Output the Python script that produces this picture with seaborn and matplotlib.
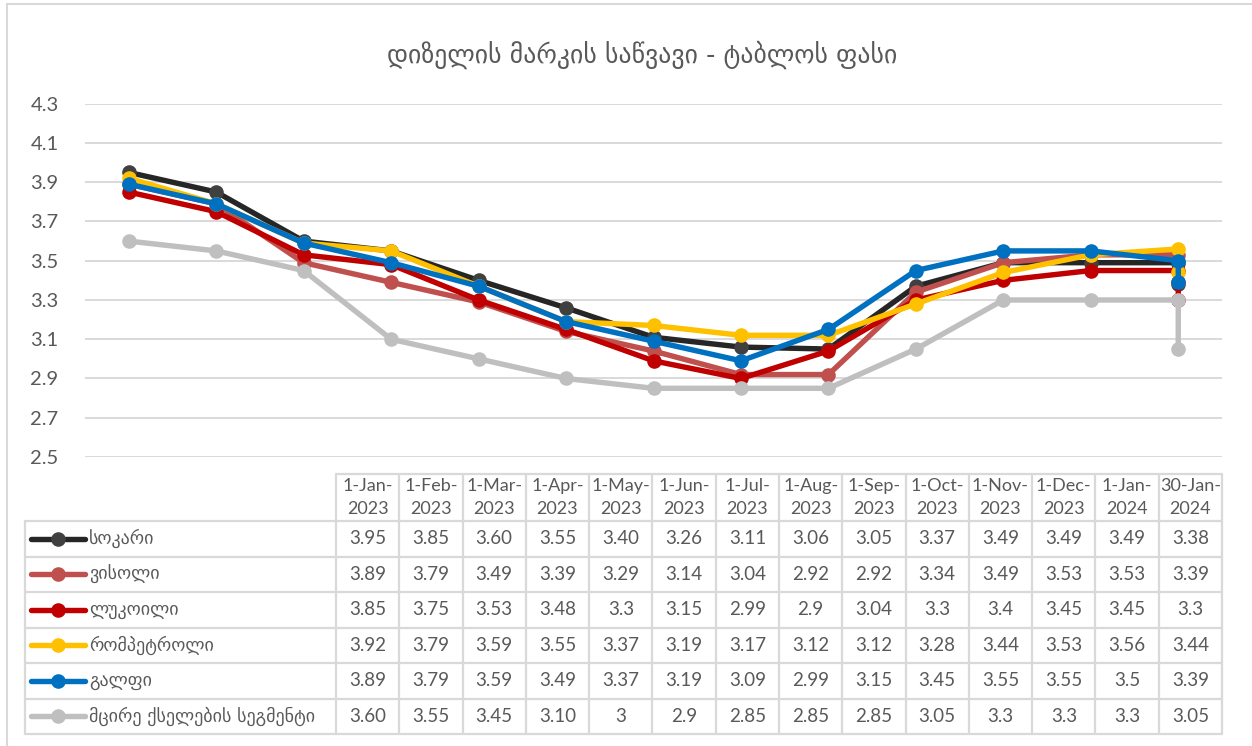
import matplotlib
matplotlib.use("Agg")
import matplotlib.pyplot as plt
from matplotlib.lines import Line2D
import seaborn as sns
import pandas as pd

sns.set_theme(style="white")
plt.rcParams['font.family'] = ['Lato', 'DejaVu Sans']

title = "დიზელის მარკის საწვავი - ტაბლოს ფასი"
date_labels = ["1-Jan-\n2023", "1-Feb-\n2023", "1-Mar-\n2023", "1-Apr-\n2023", "1-May-\n2023",
               "1-Jun-\n2023", "1-Jul-\n2023", "1-Aug-\n2023", "1-Sep-\n2023", "1-Oct-\n2023",
               "1-Nov-\n2023", "1-Dec-\n2023", "1-Jan-\n2024", "30-Jan-\n2024"]
# month position on the date axis (monthly base unit: 30-Jan-2024 falls in Jan 2024)
month_pos = [0, 1, 2, 3, 4, 5, 6, 7, 8, 9, 10, 11, 12, 12]

series_names = ["სოკარი", "ვისოლი", "ლუკოილი", "რომპეტროლი", "გალფი", "მცირე ქსელების სეგმენტი"]
socar = ["3.95", "3.85", "3.60", "3.55", "3.40", "3.26", "3.11", "3.06", "3.05", "3.37", "3.49", "3.49", "3.49", "3.38"]
wissol = ["3.89", "3.79", "3.49", "3.39", "3.29", "3.14", "3.04", "2.92", "2.92", "3.34", "3.49", "3.53", "3.53", "3.39"]
lukoil = ["3.85", "3.75", "3.53", "3.48", "3.3", "3.15", "2.99", "2.9", "3.04", "3.3", "3.4", "3.45", "3.45", "3.3"]
rompetrol = ["3.92", "3.79", "3.59", "3.55", "3.37", "3.19", "3.17", "3.12", "3.12", "3.28", "3.44", "3.53", "3.56", "3.44"]
gulf = ["3.89", "3.79", "3.59", "3.49", "3.37", "3.19", "3.09", "2.99", "3.15", "3.45", "3.55", "3.55", "3.5", "3.39"]
small = ["3.60", "3.55", "3.45", "3.10", "3", "2.9", "2.85", "2.85", "2.85", "3.05", "3.3", "3.3", "3.3", "3.05"]
series_table = [socar, wissol, lukoil, rompetrol, gulf, small]
colors = ["#262626", "#C0504D", "#C00000", "#FFC000", "#0070C0", "#BFBFBF"]
marker_colors = ["#404040", "#C0504D", "#C00000", "#FFC000", "#0070C0", "#BFBFBF"]
yticks = [2.5, 2.7, 2.9, 3.1, 3.3, 3.5, 3.7, 3.9, 4.1, 4.3]

W, H = 1252, 746
fig = plt.figure(figsize=(W / 100, H / 100), dpi=100)

def fx(px):
    return px / W

def fy(py):
    return 1 - py / H

TXT = "#595959"
GRID = "#D9D9D9"

# outer chart border (left/top visible)
fig.add_artist(Line2D([fx(7), fx(7)], [fy(4), fy(746)], color=GRID, lw=1.5))
fig.add_artist(Line2D([fx(7), fx(1252)], [fy(4), fy(4)], color=GRID, lw=1.5))

ax = fig.add_axes([fx(85), fy(457), fx(1222) - fx(85), fy(103.7) - fy(457)])
for i, (name, vals) in enumerate(zip(series_names, series_table)):
    df = pd.DataFrame({"x": month_pos, "y": [float(v) for v in vals]})
    sns.lineplot(data=df, x="x", y="y", ax=ax, sort=False, estimator=None, color=colors[i], lw=3.9,
                 marker="o", markersize=10.5, markeredgewidth=0, markerfacecolor=marker_colors[i],
                 zorder=3 + i)

ax.set_xlim(-0.5, 12.5)
ax.set_ylim(2.5, 4.3)
ax.set_yticks(yticks)
ax.set_yticklabels([f"{t:.1f}" for t in yticks], fontsize=14.5, color=TXT)
ax.set_xticks([])
ax.set_xlabel("")
ax.set_ylabel("")
ax.grid(axis="y", color=GRID, lw=1.4)
ax.set_axisbelow(True)
for s in ax.spines.values():
    s.set_visible(False)
ax.tick_params(axis="y", length=0, pad=19)
ax.patch.set_alpha(0)

fig.text(fx(642), fy(55), title, ha="center", va="center", fontsize=18.5, color=TXT,
         family=['DejaVu Sans'])

# data table
col_x = [336 + i * (1222 - 336) / 14 for i in range(15)]
row_y = [521 + i * (734 - 521) / 6 for i in range(7)]
head_top = 474
tl = dict(color=GRID, lw=1.6)
# header
fig.add_artist(Line2D([fx(col_x[0]), fx(col_x[-1])], [fy(head_top), fy(head_top)], **tl))
for cx in col_x:
    fig.add_artist(Line2D([fx(cx), fx(cx)], [fy(head_top), fy(row_y[-1])], **tl))
for ry in row_y:
    fig.add_artist(Line2D([fx(25), fx(col_x[-1])], [fy(ry), fy(ry)], **tl))
fig.add_artist(Line2D([fx(25), fx(25)], [fy(row_y[0]), fy(row_y[-1])], **tl))

for j, lab in enumerate(date_labels):
    cx = (col_x[j] + col_x[j + 1]) / 2
    top, bot = lab.split("\n")
    fig.text(fx(cx), fy(486), top, ha="center", va="center", fontsize=13, color=TXT)
    fig.text(fx(cx), fy(509), bot, ha="center", va="center", fontsize=13, color=TXT)

for i, (name, vals) in enumerate(zip(series_names, series_table)):
    cy = (row_y[i] + row_y[i + 1]) / 2
    fig.add_artist(Line2D([fx(31), fx(85)], [fy(cy), fy(cy)], color=colors[i], lw=3.9,
                          solid_capstyle="round"))
    fig.add_artist(Line2D([fx(58)], [fy(cy)], marker="o", markersize=10.5, markeredgewidth=0,
                          markerfacecolor=marker_colors[i], color=colors[i]))
    fig.text(fx(89), fy(cy), name, ha="left", va="center", fontsize=13, color=TXT,
             family=['DejaVu Sans'])
    for j, v in enumerate(vals):
        cx = (col_x[j] + col_x[j + 1]) / 2
        fig.text(fx(cx), fy(cy), v, ha="center", va="center", fontsize=13.5, color=TXT)

fig.savefig("out.png", dpi=100)
